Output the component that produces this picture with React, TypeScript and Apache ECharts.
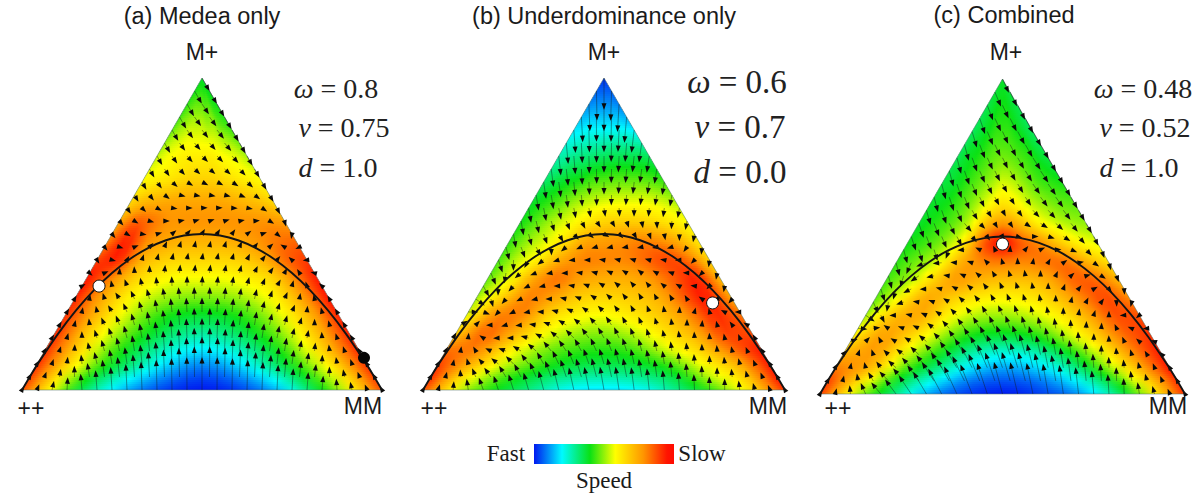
import React, { useEffect, useRef } from "react";
import * as echarts from "echarts";

// Speed scale: 0 = fastest (blue), 1 = slowest (red).
const speedRows = [0, .04, .08, .13, .18, .24, .3, .36, .42, .48, .54, .6, .68, .76, .86, 1];
const speedCols = [0, .1, .2, .3, .4, .5, .6, .7, .8, .9, 1];

const speedA = [
  [.88, .52, .28, .12, .03, .00, .03, .13, .33, .56, .88],
  [.90, .58, .35, .20, .09, .04, .09, .21, .39, .60, .90],
  [.92, .64, .43, .29, .16, .10, .16, .29, .45, .65, .92],
  [.93, .68, .48, .35, .24, .19, .24, .35, .50, .70, .93],
  [.93, .70, .53, .41, .32, .28, .32, .41, .54, .72, .94],
  [.92, .74, .58, .47, .40, .38, .40, .47, .58, .74, .94],
  [.94, .76, .62, .54, .50, .49, .50, .54, .62, .77, .96],
  [.96, .82, .68, .61, .58, .58, .58, .61, .66, .80, .95],
  [.88, .93, .75, .68, .66, .66, .66, .68, .74, .84, .90],
  [.80, .93, .80, .75, .73, .73, .73, .75, .78, .82, .84],
  [.74, .85, .82, .78, .78, .78, .78, .78, .78, .78, .76],
  [.66, .72, .74, .75, .75, .75, .75, .74, .72, .70, .66],
  [.58, .60, .62, .64, .66, .66, .66, .64, .62, .60, .58],
  [.52, .56, .58, .60, .60, .60, .60, .58, .56, .54, .50],
  [.44, .48, .50, .52, .52, .52, .50, .50, .46, .44, .42],
  [.38, .38, .38, .38, .38, .38, .38, .38, .38, .38, .38],
];
const speedB = [
  [.88, .55, .40, .30, .20, .18, .20, .30, .44, .62, .92],
  [.92, .62, .46, .36, .29, .27, .29, .36, .52, .66, .95],
  [.90, .72, .54, .44, .37, .35, .37, .44, .58, .72, .95],
  [.82, .80, .62, .50, .44, .42, .45, .55, .66, .82, .95],
  [.68, .84, .72, .58, .51, .49, .53, .62, .72, .88, .88],
  [.56, .78, .80, .66, .60, .58, .62, .68, .78, .92, .82],
  [.50, .66, .80, .76, .68, .66, .68, .72, .84, .94, .74],
  [.46, .58, .74, .82, .76, .74, .74, .78, .86, .92, .70],
  [.44, .54, .62, .74, .80, .80, .80, .84, .88, .82, .66],
  [.42, .50, .56, .64, .74, .76, .78, .80, .78, .72, .62],
  [.40, .46, .52, .57, .62, .66, .67, .67, .65, .62, .58],
  [.38, .42, .46, .51, .54, .56, .57, .57, .57, .55, .52],
  [.32, .35, .38, .40, .43, .44, .45, .45, .45, .44, .42],
  [.26, .27, .29, .30, .31, .32, .33, .33, .33, .33, .32],
  [.16, .16, .17, .17, .17, .17, .17, .17, .17, .16, .15],
  [.02, .02, .02, .02, .02, .02, .02, .02, .02, .02, .02],
];
const speedC = [
  [.90, .54, .32, .12, .03, .00, .03, .10, .28, .56, .92],
  [.90, .62, .38, .21, .09, .05, .08, .18, .36, .62, .92],
  [.82, .72, .47, .31, .18, .12, .16, .27, .46, .70, .95],
  [.72, .76, .56, .41, .28, .23, .26, .38, .55, .77, .95],
  [.62, .76, .64, .50, .39, .36, .39, .50, .64, .82, .92],
  [.52, .70, .73, .59, .51, .49, .52, .59, .71, .86, .88],
  [.46, .60, .74, .67, .61, .59, .61, .67, .78, .88, .80],
  [.44, .52, .66, .76, .72, .70, .70, .74, .84, .84, .72],
  [.42, .48, .56, .72, .80, .82, .80, .82, .82, .72, .64],
  [.40, .44, .50, .62, .85, .95, .85, .78, .68, .60, .56],
  [.38, .42, .46, .54, .70, .78, .72, .62, .56, .52, .50],
  [.38, .40, .44, .50, .58, .64, .60, .54, .50, .47, .46],
  [.36, .38, .42, .46, .50, .54, .52, .48, .44, .42, .40],
  [.34, .38, .40, .43, .46, .47, .46, .44, .42, .38, .36],
  [.34, .36, .38, .40, .42, .42, .42, .40, .38, .36, .34],
  [.38, .38, .38, .38, .38, .38, .38, .38, .38, .38, .38],
];

// Heading of the arrows, degrees (0 = right, 90 = up), across each row.
const headingCols = [0, 1 / 6, 2 / 6, 3 / 6, 4 / 6, 5 / 6, 1];
const headingRowsA = [0, .1, .2, .3, .4, .47, .5, .55, .6, .7, .8, 1];
const headingA = [
  [60, 95, 92, 90, 88, 85, 120],
  [60, 105, 95, 90, 85, 80, 120],
  [60, 115, 98, 90, 82, 72, 120],
  [60, 125, 100, 90, 80, 65, 120],
  [-60, 85, 80, 82, 75, 45, 180],
  [-50, 20, 70, 80, 70, 40, -150],
  [-50, -10, 40, 60, 55, 20, -100],
  [-50, -20, 5, 10, 10, 0, -70],
  [-60, -45, -5, 0, -5, -20, -60],
  [-60, -55, -45, -40, -40, -45, -60],
  [-60, -55, -50, -50, -50, -50, -60],
  [-60, -60, -60, -60, -60, -60, -60],
];
const headingRowsB = [0, .1, .17, .25, .32, .4, .45, .5, .6, .8, 1];
const headingB = [
  [60, 110, 105, 100, 95, 90, 120],
  [60, 150, 120, 108, 100, 90, 120],
  [60, 190, 145, 120, 105, 90, 120],
  [0, 205, 165, 135, 110, 75, 180],
  [-60, 210, 175, 145, 120, 150, -100],
  [-70, 205, 185, 165, 150, 170, -100],
  [-75, -60, 195, 185, 180, 180, -95],
  [-80, -70, -50, -30, -60, -80, -100],
  [-80, -80, -85, -90, -95, -100, -100],
  [-85, -87, -90, -90, -92, -95, -98],
  [-90, -90, -90, -90, -90, -90, -90],
];
const headingRowsC = [0, .1, .2, .3, .375, .42, .46, .52, .6, .8, 1];
const headingC = [
  [60, 130, 118, 105, 98, 92, 120],
  [60, 140, 125, 110, 100, 90, 120],
  [0, 160, 128, 112, 100, 85, 180],
  [-70, 175, 140, 115, 98, 60, -100],
  [-75, 200, 155, 112, 90, 30, -70],
  [-75, 190, 170, 105, 75, 20, -75],
  [-75, -70, 175, 100, 30, -20, -70],
  [-70, -65, -30, -70, -15, -40, -60],
  [-75, -70, -65, -60, -55, -50, -60],
  [-75, -70, -65, -65, -62, -60, -60],
  [-65, -65, -65, -65, -65, -65, -65],
];

// The parabola drawn in each triangle (x across, h up, both 0..1).
const curveX = [0, .025, .05, .1, .15, .2, .25, .3, .35, .4, .45, .5, .55, .6, .65, .7, .75, .8, .85, .9, .95, .975, 1];
const curveH = [0, .049, .095, .18, .255, .32, .375, .42, .455, .48, .495, .5, .495, .48, .455, .42, .375, .32, .255, .18, .095, .049, 0];

const whiteDots = [[[.214, .333]], [[.80, .279]], [[.5, .476]]];
const blackDots = [[[.95, .103]], [], []];

const titles = ["(a) Medea only", "(b) Underdominance only", "(c) Combined"];
const paramOmega = ["0.8", "0.6", "0.48"];
const paramNu = ["0.75", "0.7", "0.52"];
const paramD = ["1.0", "0.0", "1.0"];

// ---- Layout and styling -------------------------------------------------
const panels = [
  { grid: { left: 22, top: 78, width: 360, height: 312 }, speed: speedA, hr: headingRowsA, hd: headingA,
    title: [202, 16], top: [202, 52], pp: [31, 408], mm: [363, 406], size: 28, par: [[336, 88], [344, 127], [338, 167]] },
  { grid: { left: 423, top: 78, width: 362, height: 312 }, speed: speedB, hr: headingRowsB, hd: headingB,
    title: [604, 16], top: [604, 52], pp: [434, 408], mm: [768, 406], size: 33, par: [[737, 82], [740, 127], [740, 172]] },
  { grid: { left: 820, top: 79, width: 365, height: 315 }, speed: speedC, hr: headingRowsC, hd: headingC,
    title: [1004, 15], top: [1006, 52], pp: [838, 408], mm: [1168, 406], size: 28, par: [[1143, 88], [1145, 127], [1139, 167]] },
];

const colorStops: [number, number[]][] = [
  [0, [0, 24, 240]], [.2, [0, 250, 255]], [.4, [10, 225, 20]], [.58, [255, 255, 0]], [.78, [255, 150, 0]], [.95, [255, 20, 0]], [1, [255, 10, 0]],
];
function speedColor(v: number) {
  const c = Math.max(0, Math.min(1, v));
  for (let i = 1; i < colorStops.length; i++) {
    if (c <= colorStops[i][0]) {
      const [a, ca] = colorStops[i - 1];
      const [b, cb] = colorStops[i];
      const f = (c - a) / (b - a);
      const m = ca.map((n, k) => Math.round(n + (cb[k] - n) * f));
      return `rgb(${m[0]},${m[1]},${m[2]})`;
    }
  }
  return "rgb(255,10,0)";
}

function hermite(xs: number[], ys: number[], x: number) {
  let i = 0;
  while (i < xs.length - 2 && x > xs[i + 1]) i++;
  const x0 = xs[i], x1 = xs[i + 1], y0 = ys[i], y1 = ys[i + 1], d = x1 - x0;
  const s = (y1 - y0) / d;
  const m0 = i > 0 ? (y1 - ys[i - 1]) / (x1 - xs[i - 1]) : s;
  const m1 = i < xs.length - 2 ? (ys[i + 2] - y0) / (xs[i + 2] - x0) : s;
  const u = (x - x0) / d, u2 = u * u, u3 = u2 * u;
  return (2 * u3 - 3 * u2 + 1) * y0 + (u3 - 2 * u2 + u) * d * m0 + (-2 * u3 + 3 * u2) * y1 + (u3 - u2) * d * m1;
}
function speedAt(g: number[][], h: number, t: number) {
  return hermite(speedRows, g.map((row) => hermite(speedCols, row, t)), h);
}
function headingAt(rows: number[], g: number[][], h: number, t: number) {
  let r = 0;
  while (r < rows.length - 2 && h > rows[r + 1]) r++;
  const fr = (h - rows[r]) / (rows[r + 1] - rows[r]);
  const n = headingCols.length - 1;
  const c = Math.min(n - 1, Math.floor(t * n));
  const fc = t * n - c;
  let vx = 0, vy = 0;
  const add = (a: number, w: number) => { vx += Math.cos(a * Math.PI / 180) * w; vy += Math.sin(a * Math.PI / 180) * w; };
  add(g[r][c], (1 - fr) * (1 - fc));
  add(g[r][c + 1], (1 - fr) * fc);
  add(g[r + 1][c], fr * (1 - fc));
  add(g[r + 1][c + 1], fr * fc);
  return Math.atan2(vy, vx);
}

function stripGradient(g: number[][], h: number) {
  const stops = [];
  for (let k = 0; k <= 24; k++) stops.push({ offset: k / 24, color: speedColor(speedAt(g, h, k / 24)) });
  return new echarts.graphic.LinearGradient(0, 0, 1, 0, stops);
}

function buildOption() {
  const series: any[] = [];
  const graphic: any[] = [];
  const sans = '"Liberation Sans", Arial, sans-serif';
  const serif = '"Liberation Serif", "Times New Roman", serif';
  const label = (text: string, x: number, y: number, font: string, color = "#1a1a1a") => ({
    type: "text", x, y, silent: true, style: { text, font, fill: color, align: "center", verticalAlign: "middle" },
  });

  panels.forEach((p, idx) => {
    const strips: number[][] = [];
    const nStrips = Math.floor(p.grid.height / 2);
    for (let s = 0; s < nStrips; s++) strips.push([s / nStrips, (s + 1) / nStrips]);
    const step = 1 / nStrips;
    series.push({
      type: "custom", xAxisIndex: idx, yAxisIndex: idx, coordinateSystem: "cartesian2d", clip: false, silent: true, z: 1,
      data: strips,
      renderItem: (_: any, api: any) => {
        const h0 = api.value(0), h1 = api.value(1);
        const top = Math.min(1, h1 + step * 0.4);
        return {
          type: "polygon",
          shape: { points: [api.coord([h0 / 2, h0]), api.coord([1 - h0 / 2, h0]), api.coord([1 - top / 2, top]), api.coord([top / 2, top])] },
          style: { fill: stripGradient(p.speed, (h0 + h1) / 2) },
        };
      },
    });
    series.push({
      type: "custom", xAxisIndex: idx, yAxisIndex: idx, coordinateSystem: "cartesian2d", clip: false, silent: true, z: 2,
      data: [[0, 0]],
      renderItem: (_: any, api: any) => ({
        type: "polygon",
        shape: { points: [api.coord([0, 0]), api.coord([1, 0]), api.coord([.5, 1])] },
        style: { fill: "none", stroke: "rgba(90,120,110,0.7)", lineWidth: 0.8 },
      }),
    });
    const arrows: number[][] = [];
    const N = 24;
    for (let r = 0; r <= N; r++) {
      const h = r / N;
      for (let i = 0; i <= N - r; i++) {
        const t = r === N ? .5 : i / (N - r);
        arrows.push([h / 2 + t * (1 - h), h, headingAt(p.hr, p.hd, h, t), speedAt(p.speed, h, t)]);
      }
    }
    series.push({
      type: "custom", xAxisIndex: idx, yAxisIndex: idx, coordinateSystem: "cartesian2d", clip: false, silent: true, z: 3,
      data: arrows,
      renderItem: (_: any, api: any) => {
        const c = api.coord([api.value(0), api.value(1)]);
        const a = api.value(2), v = Math.max(0, Math.min(1, api.value(3)));
        const dx = Math.cos(a), dy = -Math.sin(a);
        const L = 29 * (1 - v) * (1 - v);
        const bx = c[0] + dx * (L - 2.5), by = c[1] + dy * (L - 2.5);
        return {
          type: "group",
          children: [
            { type: "line", shape: { x1: c[0], y1: c[1], x2: c[0] + dx * L, y2: c[1] + dy * L },
              style: { stroke: "rgba(20,30,30,0.65)", lineWidth: 0.7 } },
            { type: "polygon",
              shape: { points: [[c[0] + dx * (L + 4), c[1] + dy * (L + 4)], [bx - dy * 2.5, by + dx * 2.5], [bx + dy * 2.5, by - dx * 2.5]] },
              style: { fill: "#0a0a0a" } },
          ],
        };
      },
    });
    series.push({
      type: "line", xAxisIndex: idx, yAxisIndex: idx, data: curveX.map((x, i) => [x, curveH[i]]), smooth: 0.3,
      showSymbol: false, silent: true, clip: false, z: 4, lineStyle: { color: "#141414", width: 1.9 },
    });
    series.push({
      type: "scatter", xAxisIndex: idx, yAxisIndex: idx, data: whiteDots[idx], symbolSize: 12, silent: true, clip: false, z: 5,
      itemStyle: { color: "#fff", borderColor: "#111", borderWidth: 1, opacity: 1 },
    });
    if (blackDots[idx].length) {
      series.push({
        type: "scatter", xAxisIndex: idx, yAxisIndex: idx, data: blackDots[idx], symbolSize: 12, silent: true, clip: false, z: 5,
        itemStyle: { color: "#050505", opacity: 1 },
      });
    }

    graphic.push(label(titles[idx], p.title[0], p.title[1], `23.5px ${sans}`));
    graphic.push(label("M+", p.top[0], p.top[1], `23px ${sans}`));
    graphic.push(label("++", p.pp[0], p.pp[1], `23px ${sans}`));
    graphic.push(label("MM", p.mm[0], p.mm[1], `23px ${sans}`));
    const rich = { i: { font: `italic ${p.size}px ${serif}`, fill: "#222" }, n: { font: `${p.size}px ${serif}`, fill: "#222" } };
    [["\u03c9", paramOmega[idx]], ["\u03bd", paramNu[idx]], ["d", paramD[idx]]].forEach(([sym, val], k) => {
      graphic.push({
        type: "text", x: p.par[k][0], y: p.par[k][1], silent: true,
        style: { text: `{i|${sym}}{n| = ${val}}`, rich, align: "center", verticalAlign: "middle" },
      });
    });
  });

  graphic.push({
    type: "rect", silent: true, shape: { x: 534, y: 444, width: 140, height: 20 },
    style: { fill: new echarts.graphic.LinearGradient(0, 0, 1, 0, colorStops.map(([o]) => ({ offset: o, color: speedColor(o) }))) },
  });
  graphic.push(label("Fast", 506, 453, `23px ${serif}`));
  graphic.push(label("Slow", 702, 453, `23px ${serif}`));
  graphic.push(label("Speed", 604, 480, `23px ${serif}`));

  const hiddenAxis = (gridIndex: number) => ({ type: "value", gridIndex, min: 0, max: 1, show: false });
  return {
    animation: false,
    backgroundColor: "#fff",
    grid: panels.map((p) => ({ ...p.grid, containLabel: false })),
    xAxis: panels.map((_, i) => hiddenAxis(i)),
    yAxis: panels.map((_, i) => hiddenAxis(i)),
    series,
    graphic,
  };
}

export default function App() {
  const ref = useRef<HTMLDivElement>(null);
  useEffect(() => {
    const chart = echarts.init(ref.current!, undefined, { renderer: "svg" });
    chart.setOption(buildOption() as any);
    return () => chart.dispose();
  }, []);
  return <div ref={ref} style={{ position: "absolute", left: 0, top: 0, width: 1200, height: 497 }} />;
}
